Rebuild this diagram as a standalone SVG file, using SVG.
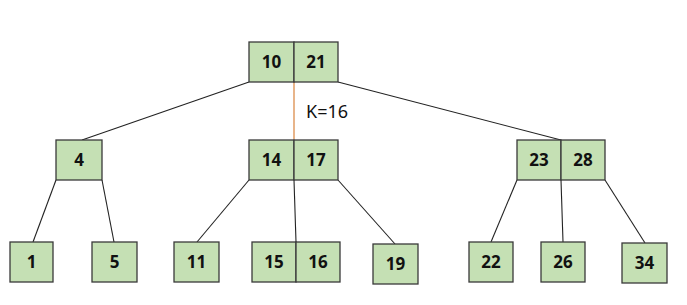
<svg xmlns="http://www.w3.org/2000/svg" width="687" height="305" viewBox="0 0 687 305">
<style>
.k{fill:#C5E0B4;stroke:#3a3a3a;stroke-width:1.3}
.t{font-family:"Noto Sans","Open Sans",sans-serif;font-weight:bold;font-size:17px;fill:#111;text-anchor:middle}
.e{stroke:#222;stroke-width:1.1;fill:none}
.lab{font-family:"Noto Sans","Open Sans",sans-serif;font-size:18px;fill:#111}
</style>
<rect width="687" height="305" fill="#fff"/>
<g id="connectors">
<line class="e" x1="249" y1="82" x2="82" y2="140"/>
<line x1="294" y1="82" x2="294" y2="139" stroke="#D9833C" stroke-width="1.2"/>
<line class="e" x1="338" y1="82" x2="561" y2="140"/>
<line class="e" x1="56" y1="180" x2="33" y2="242"/>
<line class="e" x1="102" y1="180" x2="114" y2="242"/>
<line class="e" x1="249" y1="180" x2="197" y2="242"/>
<line class="e" x1="294" y1="180" x2="296" y2="242"/>
<line class="e" x1="338" y1="180" x2="395" y2="244"/>
<line class="e" x1="517" y1="180" x2="491" y2="242"/>
<line class="e" x1="561" y1="180" x2="563" y2="242"/>
<line class="e" x1="605" y1="180" x2="645" y2="243"/>
</g>
<text class="lab" x="306" y="118">K=16</text>
<g id="n10_21"><rect class="k" x="249" y="42" width="45" height="40"/><rect class="k" x="294" y="42" width="44" height="40"/><text class="t" x="271.5" y="68">10</text><text class="t" x="316" y="68">21</text></g>
<g id="n4"><rect class="k" x="56" y="140" width="46" height="40"/><text class="t" x="79" y="166">4</text></g>
<g id="n14_17"><rect class="k" x="249" y="140" width="45" height="40"/><rect class="k" x="294" y="140" width="44" height="40"/><text class="t" x="271.5" y="166">14</text><text class="t" x="316" y="166">17</text></g>
<g id="n23_28"><rect class="k" x="517" y="140" width="44" height="40"/><rect class="k" x="561" y="140" width="44" height="40"/><text class="t" x="539" y="166">23</text><text class="t" x="583" y="166">28</text></g>
<g id="n1"><rect class="k" x="10" y="242" width="43" height="40"/><text class="t" x="31.5" y="268">1</text></g>
<g id="n5"><rect class="k" x="92" y="242" width="45" height="40"/><text class="t" x="114.5" y="268">5</text></g>
<g id="n11"><rect class="k" x="174" y="242" width="45" height="40"/><text class="t" x="196.5" y="268">11</text></g>
<g id="n15_16"><rect class="k" x="252" y="242" width="44" height="40"/><rect class="k" x="296" y="242" width="44" height="40"/><text class="t" x="274" y="268">15</text><text class="t" x="318" y="268">16</text></g>
<g id="n19"><rect class="k" x="373" y="244" width="45" height="40"/><text class="t" x="395.5" y="270">19</text></g>
<g id="n22"><rect class="k" x="469" y="242" width="44" height="40"/><text class="t" x="491" y="268">22</text></g>
<g id="n26"><rect class="k" x="541" y="242" width="44" height="40"/><text class="t" x="563" y="268">26</text></g>
<g id="n34"><rect class="k" x="622" y="243" width="45" height="40"/><text class="t" x="644.5" y="269">34</text></g>
</svg>
